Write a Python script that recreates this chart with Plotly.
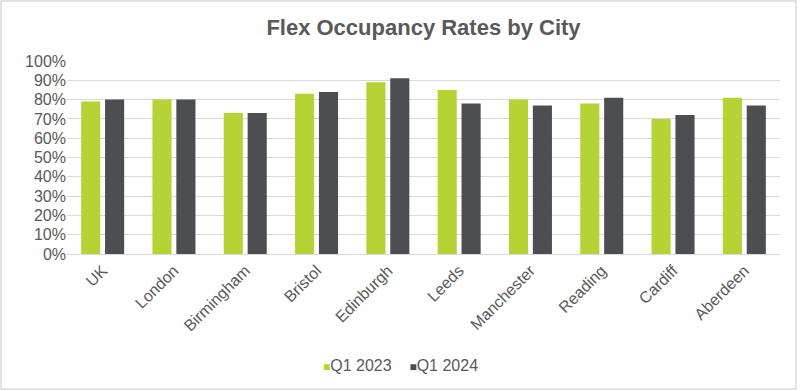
import plotly.graph_objects as go

cities = ["UK", "London", "Birmingham", "Bristol", "Edinburgh", "Leeds",
          "Manchester", "Reading", "Cardiff", "Aberdeen"]
q1_2023 = [0.79, 0.80, 0.73, 0.83, 0.89, 0.85, 0.80, 0.78, 0.70, 0.81]
q1_2024 = [0.80, 0.80, 0.73, 0.84, 0.91, 0.78, 0.77, 0.81, 0.72, 0.77]
series_names = ["Q1 2023", "Q1 2024"]
series_colors = ["#B5D334", "#4D4E52"]
y_ticks = [i / 10 for i in range(11)]
y_tick_labels = [f"{i*10}%" for i in range(11)]

W, H = 800, 391
L, R, T, B = 67, 20, 61, 137
pw, ph = W - L - R, H - T - B

fig = go.Figure()
for name, vals, col in zip(series_names, [q1_2023, q1_2024], series_colors):
    fig.add_trace(go.Bar(name=name, x=cities, y=vals, marker_color=col,
                         marker_line_width=0, showlegend=False))

legend_text = "&nbsp;&nbsp;&nbsp;&nbsp;".join(
    f"<span style='color:{c};font-size:12px'>■</span>{n}"
    for n, c in zip(series_names, series_colors))

fig.update_layout(
    width=W, height=H,
    margin=dict(l=L, r=R, t=T, b=B),
    paper_bgcolor="white", plot_bgcolor="white",
    font=dict(family="Liberation Sans, Arial, sans-serif", color="#595959", size=16),
    title=dict(text="<b>Flex Occupancy Rates by City</b>", x=0.5, xanchor="center",
               xref="paper", y=1 - 27 / H, yanchor="middle",
               font=dict(size=22, color="#595959")),
    barmode="group", bargap=0.33, bargroupgap=0.2,
    xaxis=dict(tickangle=-45, showline=True, linecolor="#D9D9D9", linewidth=1,
               tickfont=dict(size=16, color="#595959"), ticks=""),
    yaxis=dict(range=[0, 1.0], tickvals=y_ticks, ticktext=y_tick_labels,
               showgrid=True, gridcolor="#D9D9D9", gridwidth=1, zeroline=False,
               tickfont=dict(size=16, color="#595959"), ticks=""),
    annotations=[dict(text=legend_text, xref="paper", yref="paper",
                      x=(400 - L) / pw, y=(T + ph - 365) / ph,
                      xanchor="center", yanchor="middle", showarrow=False,
                      font=dict(size=16, color="#595959"))],
    shapes=[dict(type="rect", xref="paper", yref="paper",
                 x0=(1 - L) / pw, x1=(796 - L) / pw,
                 y0=(T + ph - 389) / ph, y1=(T + ph - 1) / ph,
                 line=dict(color="#D9D9D9", width=1.5))],
)

fig.write_html("out.html", config={"displayModeBar": False},
               post_script="document.body.style.margin='0';")
